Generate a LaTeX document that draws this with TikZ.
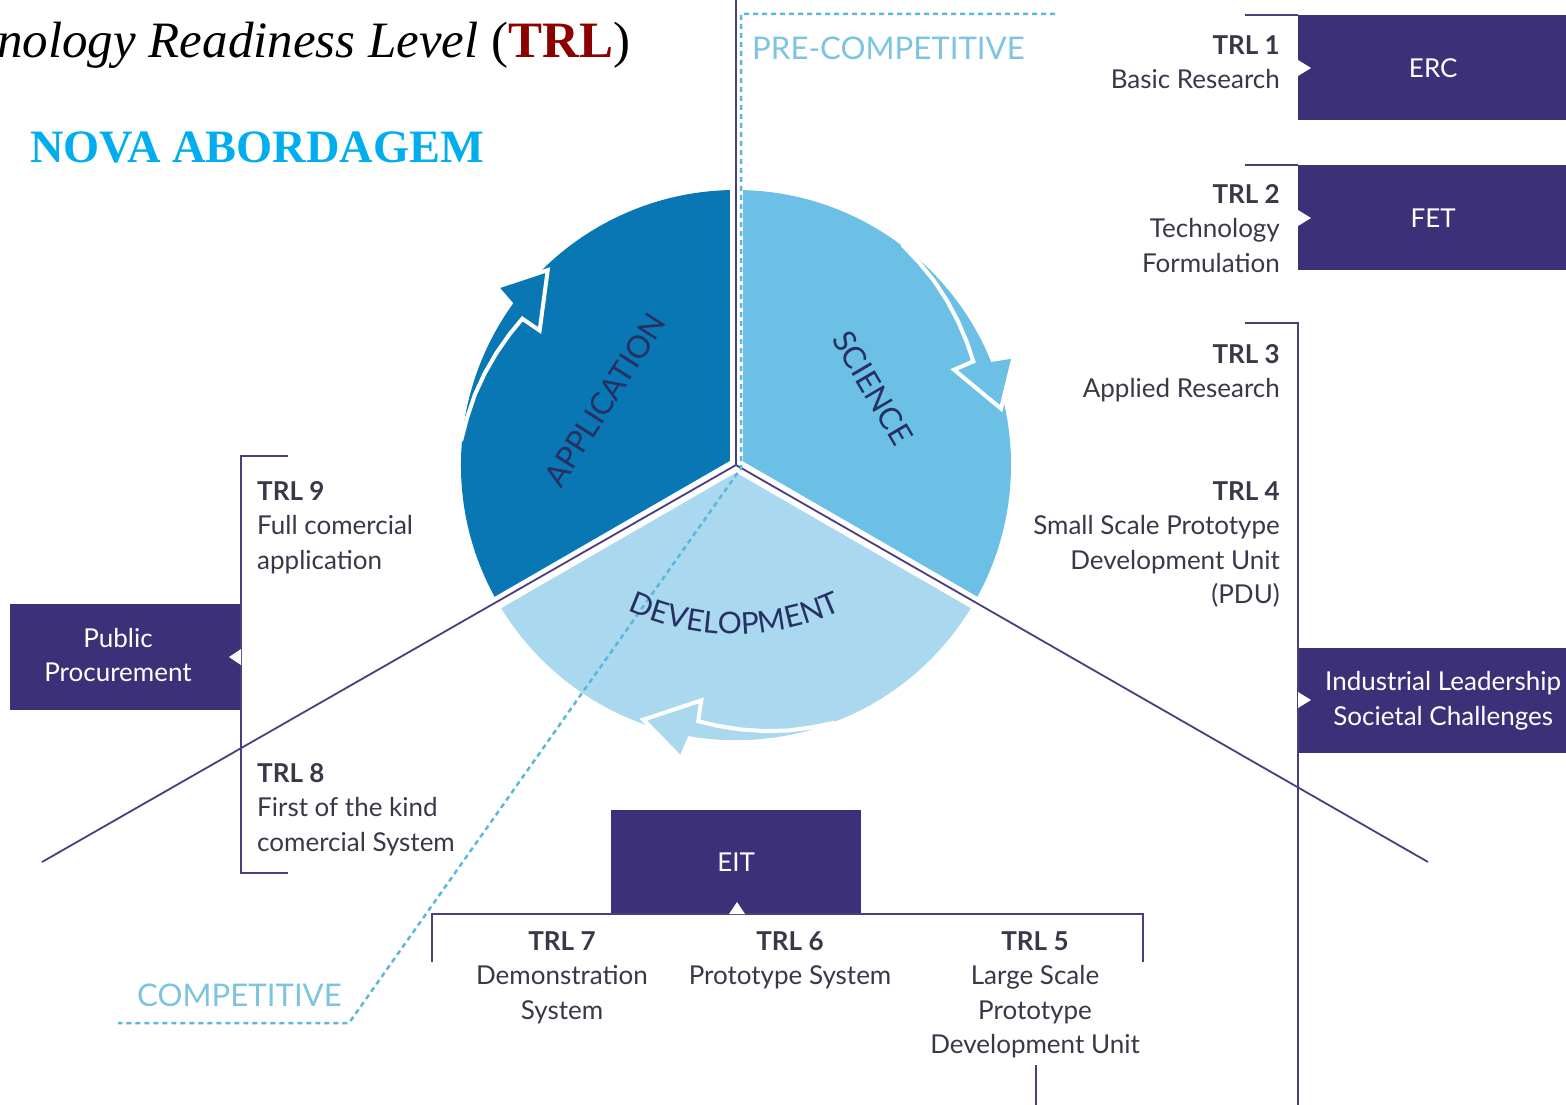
\documentclass[tikz,border=0pt]{standalone}
\usepackage{fontspec}
\setmainfont{Lato}
\newfontfamily\serifttl{Liberation Serif}
\usetikzlibrary{decorations.text}
\definecolor{appblue}{HTML}{0A77B5}
\definecolor{sciblue}{HTML}{6DC0E5}
\definecolor{devblue}{HTML}{A9D8EF}
\definecolor{boxpurple}{HTML}{3C3178}
\definecolor{linepurple}{HTML}{4A3F7E}
\definecolor{txtgray}{HTML}{3A3848}
\definecolor{dashblue}{HTML}{5DB7DD}
\definecolor{compblue}{HTML}{7CC4E0}
\definecolor{navy}{HTML}{263062}
\definecolor{trlred}{HTML}{8B0000}
\definecolor{novacyan}{HTML}{00AEEF}
\newcommand\lblfont{\fontsize{26}{34.5}\selectfont}
\newcommand\secfont{\fontsize{31}{31}\selectfont}
\newcommand\devfont{\fontsize{30}{30}\selectfont\color{navy}}
\newcommand\trl[1]{{\bfseries #1}}
\newcommand\cyclearrow[2]{%
  \fill[#2] (#1:275) arc[start angle=#1, end angle=#1+31, radius=275]
    -- (#1+32:297) -- (#1+41:271) -- (#1+29.4:238) -- (#1+29.4:259)
    -- (#1+25:261.5) -- (#1+20:264.5) -- (#1+15:267.5) -- (#1+10:270.5)
    -- (#1+5:273) -- cycle;
  \draw[white, line width=4, line join=miter]
    (#1+32:297) -- (#1+41:271) -- (#1+29.4:238) -- (#1+29.4:259)
    -- (#1+25:261.5) -- (#1+20:264.5) -- (#1+15:267.5) -- (#1+10:270.5)
    -- (#1+5:273) -- (#1:276);}
\begin{document}
\begin{tikzpicture}[x=1pt,y=-1pt,
  lbl/.style={inner sep=0pt, text=txtgray, font=\lblfont},
  pbox/.style={fill=boxpurple, text=white, font=\lblfont, inner sep=0pt, align=center},
  boxtxt/.style={text=white, font=\lblfont, inner sep=0pt, align=center},
  brack/.style={draw=linepurple, line width=1.8},
  divline/.style={draw=linepurple, line width=1.8},
  dashline/.style={draw=dashblue, line width=2.5, dash pattern=on 5pt off 4pt},
  seclbl/.style={inner sep=0pt, text=navy, font=\secfont},
  complbl/.style={inner sep=0pt, text=compblue, font=\fontsize{31.2}{31.2}\selectfont}]
\useasboundingbox (0,0) rectangle (1566,1105);
\fill[white] (0,0) rectangle (1566,1105);

% title
\node[anchor=base west, inner sep=0pt, font=\serifttl\fontsize{51}{51}\selectfont] (title) at (-3,58)
  {\itshape nology Readiness Level \upshape(\textcolor{trlred}{\bfseries TRL})};
\node[anchor=base west, inner sep=0pt, text=novacyan, font=\serifttl\bfseries\fontsize{46.4}{46.4}\selectfont] (nova) at (30,162) {NOVA ABORDAGEM};

% wheel
\begin{scope}[shift={(736,465)}]
  \fill[appblue] (0,0) -- (150:275) arc[start angle=150, end angle=270, radius=275] -- cycle;
  \fill[sciblue] (0,0) -- (270:275) arc[start angle=270, end angle=390, radius=275] -- cycle;
  \fill[devblue] (0,0) -- (30:275) arc[start angle=30, end angle=150, radius=275] -- cycle;
  \cyclearrow{185}{appblue}
  \cyclearrow{307}{sciblue}
  \cyclearrow{69}{devblue}
  \foreach \a in {270,150,30} \draw[white, line width=13] (0,0) -- (\a:300);
\end{scope}

\coordinate (C) at (736,465);
\coordinate (top) at (736,0);
\coordinate (ll) at (42,862);
\coordinate (lr) at (1428,862);
\draw[divline] (top) -- (C) -- (ll);
\draw[divline] (C) -- (lr);

\coordinate (pcend) at (1055,14);
\coordinate (pc) at (741,14);
\coordinate (pcc) at (741,468);
\coordinate (cp) at (349,1023);
\coordinate (cpend) at (118,1023);
\draw[dashline] (pcend) -- (pc) -- (pcc) -- (cp) -- (cpend);

\node[complbl, anchor=west] (precomp) at (752,48) {PRE-COMPETITIVE};
\node[complbl, anchor=west] (comp) at (137,995) {COMPETITIVE};

% sector labels
\node[seclbl, rotate=57.5] (app) at (605,400) {APPLICATION};
\node[seclbl, rotate=-59.5] (sci) at (873,388) {SCIENCE};
\path[decorate, decoration={text along path, text align=center, text={|\devfont|DEVELOPMENT}}]
  (735,377) ++(115:257) arc[start angle=115, end angle=65, radius=257];

% boxes
\node[pbox, minimum width=270pt, minimum height=105pt, anchor=north west] (erc) at (1298,15) {ERC};
\node[pbox, minimum width=270pt, minimum height=105pt, anchor=north west] (fet) at (1298,165) {FET};
\node[pbox, minimum width=290pt, minimum height=105pt, anchor=north west] (ind) at (1298,648) {Industrial Leadership\\Societal Challenges};
\node[pbox, minimum width=231pt, minimum height=106pt, anchor=north west] (pub) at (10,604) {};
\node[boxtxt] (pubtxt) at (118,655) {Public\\Procurement};
\node[pbox, minimum width=250pt, minimum height=104pt, anchor=north west] (eit) at (611,810) {EIT};

% brackets
\coordinate (b1) at (1245,15);
\coordinate (b2) at (1245,165);
\coordinate (b3) at (1245,323);
\coordinate (b3a) at (1298,323);
\coordinate (b3b) at (1298,1105);
\draw[brack] (b1) -- (erc.north west);
\draw[brack] (b2) -- (fet.north west);
\draw[brack] (b3) -- (b3a) -- (b3b);
\coordinate (p1) at (288,456);
\coordinate (p2) at (241,456);
\coordinate (p3) at (241,873);
\coordinate (p4) at (288,873);
\draw[brack] (p1) -- (p2) -- (p3) -- (p4);
\coordinate (e1) at (432,962);
\coordinate (e2) at (432,914);
\coordinate (e3) at (1143,914);
\coordinate (e4) at (1143,962);
\draw[brack] (e1) -- (e2) -- (e3) -- (e4);
\coordinate (s1) at (1036,1065);
\coordinate (s2) at (1036,1105);
\draw[brack] (s1) -- (s2);

% notches
\fill[white] (1298,60) -- (1311,68) -- (1298,76) -- cycle;
\fill[white] (1298,210) -- (1311,218) -- (1298,226) -- cycle;
\fill[white] (1298,692) -- (1311,700) -- (1298,708) -- cycle;
\fill[white] (241,649) -- (229,657) -- (241,665) -- cycle;
\fill[white] (729,914) -- (737,902) -- (745,914) -- cycle;

% TRL labels
\node[lbl, align=right, anchor=north east] (t1) at (1280,35) {\trl{TRL 1}\\Basic Research};
\node[lbl, align=right, anchor=north east] (t2) at (1280,184) {\trl{TRL 2}\\Technology\\Formulation};
\node[lbl, align=right, anchor=north east] (t3) at (1280,344) {\trl{TRL 3}\\Applied Research};
\node[lbl, align=right, anchor=north east] (t4) at (1280,481) {\trl{TRL 4}\\Small Scale Prototype\\Development Unit\\(PDU)};
\node[lbl, align=left, anchor=north west] (t9) at (257,481) {\trl{TRL 9}\\Full comercial\\application};
\node[lbl, align=left, anchor=north west] (t8) at (257,763) {\trl{TRL 8}\\First of the kind\\comercial System};
\node[lbl, align=center, anchor=north] (t7) at (562,931) {\trl{TRL 7}\\Demonstration\\System};
\node[lbl, align=center, anchor=north] (t6) at (790,931) {\trl{TRL 6}\\Prototype System};
\node[lbl, align=center, anchor=north] (t5) at (1035,931) {\trl{TRL 5}\\Large Scale\\Prototype\\Development Unit};
\end{tikzpicture}
\end{document}
